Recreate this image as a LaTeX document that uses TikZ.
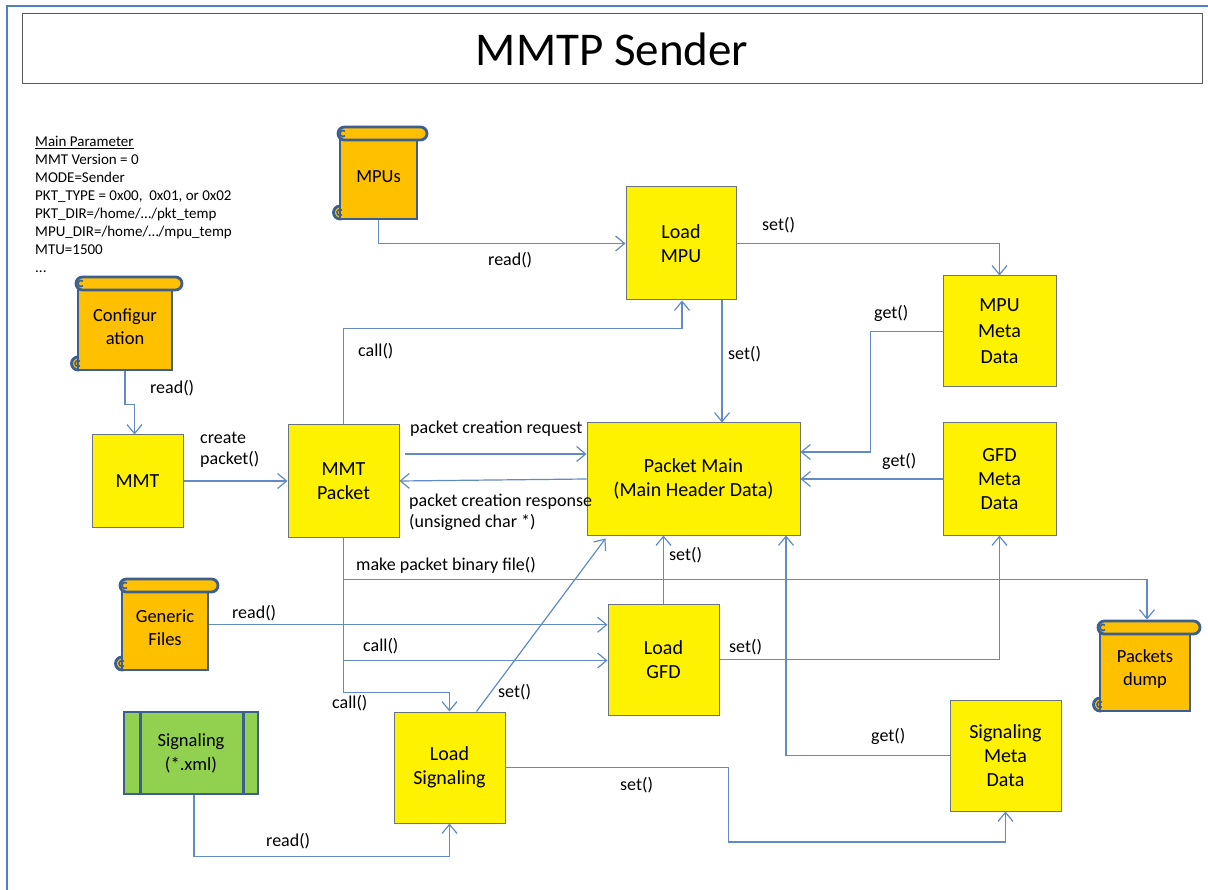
\documentclass[tikz,border=0pt]{standalone}
\usepackage{fontspec}
\setmainfont{Carlito}
\usetikzlibrary{arrows.meta,calc}
\definecolor{ln}{RGB}{98,138,198}
\definecolor{framec}{RGB}{79,129,189}
\definecolor{ybord}{RGB}{105,115,130}
\definecolor{scrollfill}{RGB}{255,192,0}
\definecolor{scrollbord}{RGB}{60,95,145}
\definecolor{sigfill}{RGB}{146,208,80}
\tikzset{
  ybox/.style={draw=ybord, line width=1pt, fill=yellow, align=center,
    font=\fontsize{20}{24}\selectfont, inner sep=0pt},
  sline/.style={draw=scrollbord, line width=2.8pt},
  sbody/.style={sline, fill=scrollfill, align=center,
    font=\fontsize{18.5}{22.5}\selectfont, inner sep=0pt},
  conn/.style={draw=ln, line width=1.2pt,
    -{Straight Barb[length=9pt,width=15pt,line width=1.2pt]}},
  lbl/.style={font=\fontsize{18}{21}\selectfont, inner sep=0pt, anchor=west, align=left},
}
\newcommand{\scrl}[6]{%
  \pgfmathsetmacro{\scW}{#4-#2}\pgfmathsetmacro{\scH}{#5-#3-6.5}%
  \pgfmathsetmacro{\scX}{(#2+#4)/2}\pgfmathsetmacro{\scY}{(#3+6.5+#5)/2}%
  \draw[sline, fill=scrollfill] (#2,#5-6.5) circle (6.5);
  \node[sbody, minimum width=\scW pt, minimum height=\scH pt] (#1) at (\scX,\scY) {#6};
  \draw[sline, fill=scrollfill, rounded corners=6.5pt] (#2-2,#3) rectangle (#4+10,#3+13);
  \draw[draw=scrollbord, line width=1.6pt] ([shift={(50:3)}]#2+3,#3+6.5) arc[start angle=50,end angle=310,radius=3];
  \draw[draw=scrollbord, line width=1.6pt] ([shift={(50:3)}]#2,#5-6.5) arc[start angle=50,end angle=310,radius=3];
}
\begin{document}
\begin{tikzpicture}[x=1pt,y=-1pt]
\useasboundingbox (0,0) rectangle (1208,890);
\fill[white] (0,0) rectangle (1208,890);
% outer frame and title
\draw[framec, line width=2pt] (7,890) -- (7,6) -- (1208,6);
\node[draw=black!65, line width=1pt, minimum width=1180pt, minimum height=70pt,
  inner sep=0pt, font=\fontsize{47}{50}\selectfont] (title) at (612,49) {MMTP Sender};
% main parameters
\node[anchor=north west, align=left, inner sep=0pt, font=\fontsize{15}{18}\selectfont] (params) at (35,136)
 {\underline{Main Parameter}\\
  MMT Version = 0\\
  MODE=Sender\\
  PKT\_TYPE = 0x00,\ \ 0x01, or 0x02\\
  PKT\_DIR=/home/…/pkt\_temp\\
  MPU\_DIR=/home/…/mpu\_temp\\
  MTU=1500\\
  ...};
% scrolls
\scrl{mpus}{340}{127}{417}{219}{MPUs}
\scrl{config}{78}{277}{172}{370}{Configur\\ation}
\scrl{gen}{122}{579}{208}{670}{Generic\\Files}
\scrl{pdump}{1100}{621}{1190}{711}{Packets\\dump}
% signaling xml
\node[draw=scrollbord, line width=2.8pt, fill=sigfill, minimum width=134pt, minimum height=82pt,
  inner sep=0pt, align=center, font=\fontsize{18.5}{24}\selectfont] (sigxml) at (191,753) {Signaling\\(*.xml)};
\draw[draw=scrollbord, line width=2.8pt] ([xshift=18pt]sigxml.north west) -- ([xshift=18pt]sigxml.south west);
\draw[draw=scrollbord, line width=2.8pt] ([xshift=-16pt]sigxml.north east) -- ([xshift=-16pt]sigxml.south east);
% yellow boxes
\node[ybox, minimum width=110pt, minimum height=113pt] (loadmpu) at (681,243.5) {Load\\MPU};
\node[ybox, minimum width=113pt, minimum height=111pt, font=\fontsize{20}{26}\selectfont] (mpumeta) at (999.5,331.5) {MPU\\Meta\\Data};
\node[ybox, minimum width=113pt, minimum height=112pt] (gfdmeta) at (999.5,479) {GFD\\Meta\\Data};
\node[ybox, minimum width=213pt, minimum height=112pt] (pmain) at (693.5,479) {Packet Main\\(Main Header Data)};
\node[ybox, minimum width=111pt, minimum height=112pt] (mmtpkt) at (343.5,481) {MMT\\Packet};
\node[ybox, minimum width=91pt, minimum height=92pt] (mmt) at (137.5,481) {MMT};
\node[ybox, minimum width=111pt, minimum height=111pt] (loadgfd) at (663.5,659.5) {Load\\GFD};
\node[ybox, minimum width=111pt, minimum height=111pt] (loadsig) at (449.5,767.5) {Load\\Signaling};
\node[ybox, minimum width=111pt, minimum height=111pt] (sigmeta) at (1005.5,755.5) {Signaling\\Meta\\Data};
% connectors
\draw[conn] (mpus.south) |- (loadmpu.west);
\draw[conn] (loadmpu.east) -| (mpumeta.north);
\coordinate (c3) at ([xshift=41pt]loadmpu.south);
\draw[conn] (c3) -- (c3 |- pmain.north);
\draw[conn] (mpumeta.west) -- ++(-72,0) |- ([yshift=27pt]pmain.east);
\draw[conn] (gfdmeta.west) -- (pmain.east);
\draw[conn] (config.south) -- ++(0,33) -| ([xshift=-3pt]mmt.north);
\draw[conn] (mmt.east) -- (mmtpkt.west);
\coordinate (r1) at ([xshift=5pt,yshift=27pt]mmtpkt.east);
\draw[conn] (r1) -- (r1 -| pmain.west);
\draw[conn] (pmain.west) -- (mmtpkt.east);
\draw[conn] (mmtpkt.north) -- ++(0,-96) -| ([xshift=1pt]loadmpu.south);
\draw[conn] (mmtpkt.south) -- ++(0,155) -| (loadsig.north);
\coordinate (b1) at ([yshift=-42pt]mmtpkt.south);
\coordinate (pd) at ([xshift=2pt,yshift=6.5pt]pdump.north);
\draw[conn] (b1) -| (pd);
\coordinate (b2) at ([yshift=-123pt]mmtpkt.south);
\draw[conn] (b2) -- (b2 -| loadgfd.west);
\coordinate (g1) at ([yshift=3pt]gen.east);
\draw[conn] (g1) -- (g1 -| loadgfd.west);
\draw[conn] ([xshift=27pt]loadsig.north) -- ([xshift=19pt,yshift=-3pt]pmain.south west);
\draw[conn] (loadgfd.north) -- (loadgfd.north |- pmain.south);
\draw[conn] (loadgfd.east) -| (gfdmeta.south);
\draw[conn] (sigmeta.west) -| ([xshift=92.5pt]pmain.south);
\draw[conn] (loadsig.east) -| ++(223,74.5) -| (sigmeta.south);
\draw[conn] ([xshift=3pt]sigxml.south) -- ++(0,61) -| (loadsig.south);
% labels
\node[lbl] (l1) at (488,260) {read()};
\node[lbl] (l2) at (762,225) {set()};
\node[lbl] (l3) at (728,354) {set()};
\node[lbl] (l4) at (874,313) {get()};
\node[lbl] (l5) at (882,461) {get()};
\node[lbl] (l6) at (150,388) {read()};
\node[lbl] (l7) at (200,450) {create\\packet()};
\node[lbl] (l8) at (410,429) {packet creation request};
\node[lbl] (l9) at (409,512) {packet creation response\\(unsigned char *)};
\node[lbl] (l10) at (358,351) {call()};
\node[lbl] (l11) at (356,565) {make packet binary file()};
\node[lbl] (l12) at (232,613) {read()};
\node[lbl] (l13) at (363,646) {call()};
\node[lbl] (l14) at (332,703) {call()};
\node[lbl] (l15) at (498,692) {set()};
\node[lbl] (l16) at (669,555) {set()};
\node[lbl] (l17) at (729,647) {set()};
\node[lbl] (l18) at (871,736) {get()};
\node[lbl] (l19) at (620,785) {set()};
\node[lbl] (l20) at (266,841) {read()};
\end{tikzpicture}
\end{document}
